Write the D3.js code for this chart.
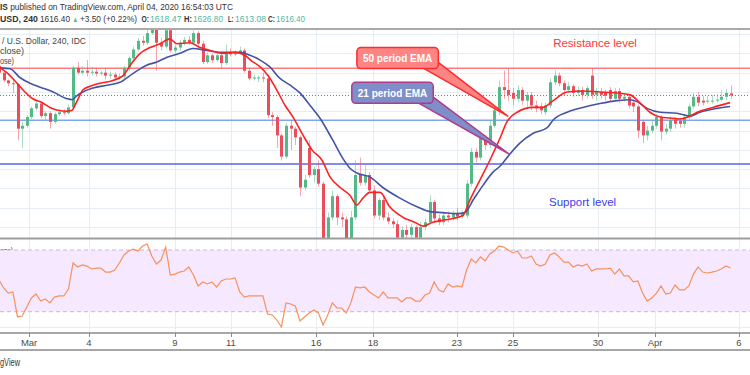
<!DOCTYPE html>
<html>
<head>
<meta charset="utf-8">
<script src="https://cdn.jsdelivr.net/npm/d3@7"></script>
<style>
body{margin:0;background:#fff;overflow:hidden;}
svg{display:block;font-family:"Liberation Sans",Arial,sans-serif;}
</style>
</head>
<body>
<div id="chart"></div>
<script>
// XAUUSD 240 candles (price units)
const opens = [1647,1640,1632,1629,1628,1582,1585,1594,1603,1608,
1595,1598,1589,1597,1599,1598,1604,1645,1640,1642,
1640,1641,1639,1640,1637,1638,1635,1636,1645,1655,
1664,1673,1671,1681,1692,1671,1667,1684,1663,1666,
1671,1674,1671,1681,1670,1651,1658,1653,1658,1650,
1661,1659,1661,1663,1642,1634,1634,1635,1634,1596,
1594,1575,1553,1585,1582,1573,1521,1562,1534,1540,
1525,1466,1490,1512,1490,1488,1466,1490,1534,1526,
1534,1518,1492,1508,1490,1486,1483,1469,1477,1472,
1480,1469,1480,1485,1506,1489,1485,1492,1490,1494,
1491,1492,1525,1558,1552,1573,1565,1585,1601,1625,
1622,1619,1613,1622,1611,1617,1606,1605,1599,1606,
1630,1637,1629,1622,1626,1619,1622,1617,1637,1617,
1620,1619,1622,1613,1621,1613,1615,1609,1605,1589,
1575,1580,1585,1594,1579,1582,1591,1590,1587,1594,
1605,1615,1611,1610,1610,1611,1612,1615,1618.47];
const closes = [1640,1632,1629,1628,1582,1585,1594,1603,1608,1595,
1598,1589,1597,1599,1598,1604,1645,1640,1642,1640,
1641,1639,1640,1637,1638,1635,1636,1645,1655,1664,
1673,1671,1681,1692,1671,1667,1684,1663,1666,1671,
1674,1671,1681,1670,1651,1658,1653,1658,1650,1661,
1659,1661,1663,1642,1634,1635,1635,1634,1596,1594,
1575,1553,1585,1582,1573,1521,1529,1534,1540,1525,
1466,1490,1512,1490,1488,1466,1490,1534,1526,1534,
1518,1492,1508,1490,1486,1483,1469,1477,1472,1480,
1469,1480,1485,1506,1489,1485,1492,1490,1494,1491,
1494,1525,1558,1552,1573,1565,1585,1601,1625,1622,
1617,1613,1622,1611,1617,1606,1603,1601,1606,1630,
1637,1629,1622,1626,1619,1622,1617,1624,1617,1620,
1617,1616,1613,1621,1613,1615,1606,1605,1580,1575,
1580,1585,1594,1579,1582,1591,1587,1587,1594,1605,
1615,1609,1609,1611,1611,1612,1615,1619,1616.40];
const highs = [1651,1642,1633,1632,1629,1589,1596,1605,1611,1610,
1600,1600,1599,1602,1602,1607,1647,1651,1647,1653,
1646,1645,1642,1645,1641,1640,1639,1647,1657,1667,
1676,1678,1684,1699,1696,1676,1694,1692,1669,1674,
1677,1678,1684,1683,1673,1661,1660,1660,1661,1669,
1665,1663,1667,1665,1645,1638,1637,1640,1636,1599,
1596,1577,1588,1591,1584,1575,1534,1570,1543,1549,
1527,1495,1518,1514,1495,1491,1497,1549,1552,1544,
1537,1523,1510,1513,1495,1489,1487,1481,1482,1483,
1482,1485,1489,1513,1508,1493,1495,1496,1497,1500,
1497,1529,1562,1562,1578,1575,1591,1606,1632,1642,
1645,1624,1627,1625,1620,1620,1611,1609,1609,1634,
1642,1640,1632,1630,1628,1626,1625,1627,1645,1624,
1624,1622,1625,1624,1624,1618,1618,1611,1607,1591,
1585,1591,1597,1596,1587,1595,1594,1593,1597,1608,
1619,1620,1616,1616,1617,1618,1622,1623,1626.80];
const lows = [1638,1630,1626,1619,1570,1562,1583,1592,1601,1593,
1591,1582,1587,1595,1596,1597,1602,1638,1638,1636,
1637,1636,1637,1633,1634,1632,1633,1634,1642,1653,
1662,1668,1669,1679,1642,1663,1665,1661,1660,1663,
1668,1669,1669,1667,1649,1649,1650,1651,1645,1648,
1657,1657,1659,1640,1632,1632,1630,1630,1593,1585,
1562,1549,1551,1560,1565,1512,1518,1531,1526,1522,
1456,1461,1487,1482,1480,1458,1461,1487,1523,1523,
1515,1489,1487,1487,1483,1479,1461,1466,1466,1466,
1461,1466,1477,1483,1485,1482,1482,1485,1487,1487,
1489,1489,1522,1547,1549,1560,1562,1583,1596,1613,
1611,1606,1609,1607,1603,1601,1599,1597,1596,1603,
1627,1626,1616,1620,1615,1616,1611,1613,1613,1611,
1613,1611,1610,1611,1609,1610,1603,1599,1572,1567,
1570,1577,1582,1570,1576,1579,1582,1583,1583,1592,
1603,1605,1606,1608,1608,1609,1610,1612,1613.08];

// moving averages read as [bar, price]
const emaRed = [[0.2,1645],[1.7,1640],[3.9,1629],[5.6,1620],[7.3,1613],[9.3,1609],[11,1604],[12.7,1601],[14.7,1600],[15.8,1601],
[16.4,1606],[17.3,1615],[18.1,1622],[19.7,1626],[21.8,1629],[24.6,1632],[26.8,1637],[28.7,1650],[30.5,1660],[32.6,1666],
[34.8,1670],[36.9,1675],[38.4,1670],[41.3,1671],[43.4,1666],[45.6,1663],[48.4,1660],[51,1661],[53.1,1658],[54.6,1652],
[56.4,1646],[58.1,1637],[60,1622],[61.8,1606],[63.5,1594],[65.7,1575],[67.6,1560],[69.8,1549],[71.5,1532],[73.7,1521],
[75.8,1513],[77.3,1503],[78.6,1510],[80.1,1516],[82.3,1516],[84.4,1501],[87.3,1490],[89.8,1485],[91.6,1481],[93.7,1485],
[95.9,1487],[98.1,1489],[100.2,1492],[101.7,1508],[103.9,1529],[106,1549],[108.2,1572],[109.7,1589],[111.9,1599],[115.3,1604],
[117.5,1604],[119.7,1611],[122.7,1620],[126.1,1621],[129.8,1620],[133.5,1619],[136.3,1617],[138.4,1609],[140.6,1599],[142.8,1594],
[144.9,1593],[147.1,1592],[148.8,1594],[150.8,1599],[154.2,1604],[157.9,1609]];
const emaBlue = [[0.2,1645],[2.4,1644],[4.5,1635],[6.7,1629],[8.9,1625],[11.7,1620],[14.7,1613],[15.8,1612],[16.8,1616],[18.1,1620],
[20.3,1624],[23.3,1627],[26.1,1630],[28.9,1639],[32,1648],[34.1,1651],[36.3,1656],[39.1,1660],[41.9,1665],[44.9,1663],
[48.4,1661],[52.1,1661],[54.2,1658],[56.4,1653],[58.5,1646],[60.7,1634],[62.9,1627],[65,1619],[67.2,1606],[69.3,1593],
[72.1,1570],[74.3,1551],[75.8,1541],[77.3,1536],[80.1,1532],[82.9,1521],[86.6,1510],[90.3,1501],[93.1,1496],[95.9,1495],
[98.9,1494],[100.6,1495],[102.4,1508],[104.5,1523],[106.7,1537],[108.2,1543],[110.4,1556],[112.5,1567],[115.3,1577],[118.4,1583],
[119.7,1591],[122.7,1599],[126.1,1604],[129.8,1608],[133.5,1611],[136.3,1612],[137.8,1610],[140,1603],[142.8,1599],[146.4,1598],
[149.2,1595],[151.4,1599],[155.1,1603],[157.9,1605]];

// RSI, one value per bar
const rsi = [50.6,45.4,42.1,42.8,26.6,27.2,33.1,38.9,41.5,36.9,
38.2,35.7,39.5,40.2,40.2,44.7,61.6,59,60.3,59.6,
57.7,58.3,58.3,55.7,55.7,57,61.6,66.8,69.4,70.6,
69.4,72.6,73.9,66.1,60.9,63.5,71.9,53.8,54.4,55.7,
56.4,59,53.8,46.7,49.3,48,49.3,46,49.9,51.2,
51.2,51.9,42.8,39.5,40.2,40.2,40.2,40.2,28.5,27.9,
24.6,20.1,35.7,35,33.7,24,26.6,29.2,31.1,29.2,
21.4,27.9,35.7,32.4,32.4,29.2,35.7,46,45.4,46,
42.8,40.8,
38.9,42.8,38.9,38.9,38.9,36.3,38.9,38.9,36.9,36.9,
40.8,42.1,49.3,44.1,42.8,48,46,46.7,46,57,
64.2,61.6,65.5,62.9,67.4,69.4,72.6,71.9,70,68.1,
69.4,64.8,64.8,66.1,60.9,59.6,60.9,66.8,68.1,65.5,
62.2,62.2,59,60.3,59.6,60.9,56.4,57.7,57.7,57.7,
58.3,54.4,57.7,53.2,53.2,49.3,49.9,42.1,36.9,38.9,
42.1,46.7,41.5,42.1,47.3,44.1,44.1,46.7,54.4,59,
55.7,55.1,55.7,56.4,57.7,59.6,58.3];

const tickLabels = ['Mar','4','9','11','16','18','23','25','30','Apr','6'];
const tickBars = [6.5,19.4,38,50.1,68.5,80.8,98.9,111,129.4,141.7,159.8];

const resistance = 1644.5;
const midLevel = 1590.7;
const support = 1545.4;
const lastPrice = 1616.4;

const W = 750, H = 375;
const UP = '#53b987', DOWN = '#eb4d5c';

var x = d3.scaleLinear().domain([0, 158]).range([-1, 730.5]);
var y = d3.scaleLinear().domain([1468.7, 1684.2]).range([238, 30]);
var yr = d3.scaleLinear().domain([30, 70]).range([311.7, 250]);

var svg = d3.select('#chart').append('svg').attr('width', W).attr('height', H);

// squeeze a text into the width it has in the snapshot
function fit(sel, len){
    return sel.attr('textLength', len).attr('lengthAdjust', 'spacingAndGlyphs');
}

// header
var h1 = fit(svg.append('text').attr('x', 0).attr('y', 10)
    .attr('font-size', '8.6px').attr('fill', '#333'), 233);
h1.append('tspan').attr('font-weight', 'bold').text('IS');
h1.append('tspan').text(' published on TradingView.com, April 04, 2020 16:54:03 UTC');

var h2 = svg.append('g').attr('font-size', '8.3px').attr('fill', '#333');
function head(tx, px, len, col, bold){
    fit(h2.append('text').attr('x', px).attr('y', 22).text(tx)
        .attr('fill', col || '#333').attr('font-weight', bold ? 'bold' : 'normal'), len);
}
head('USD, 240', 0, 38, null, true);
head('1616.40', 40, 30);
head('\u25B2', 72.5, 5.5, UP);
head('+3.50 (+0.22%)', 80, 57);
head('O:', 141.5, 7.5, null, true);
head('1618.47', 150, 31.5, '#4fb6a0');
head('H:', 184, 8, null, true);
head('1626.80', 193, 30, '#4fb6a0');
head('L:', 228, 5.5, null, true);
head('1613.08', 235, 31, '#4fb6a0');
head('C:', 268, 7, null, true);
head('1616.40', 276, 29, '#4fb6a0');

// clip for main pane
svg.append('clipPath').attr('id', 'mainclip').append('rect')
    .attr('x', 0).attr('y', 30).attr('width', W).attr('height', 208);

var grid = svg.append('g').attr('stroke', '#e6eef4').attr('stroke-width', 1);
grid.selectAll('line.h').data(y.ticks(10)).enter().append('line')
    .attr('x1', 0).attr('x2', W)
    .attr('y1', d => Math.round(y(d)) + 0.5).attr('y2', d => Math.round(y(d)) + 0.5);
grid.selectAll('line.v').data(tickBars).enter().append('line')
    .attr('x1', d => Math.round(x(d)) + 0.5).attr('x2', d => Math.round(x(d)) + 0.5)
    .attr('y1', 30).attr('y2', 333);
grid.selectAll('line.r').data([60, 40, 20]).enter().append('line')
    .attr('x1', 0).attr('x2', W)
    .attr('y1', d => Math.round(yr(d)) + 0.5).attr('y2', d => Math.round(yr(d)) + 0.5);

// horizontal levels
function level(p, col, w, dash){
    svg.append('line').attr('x1', 0).attr('x2', W)
        .attr('y1', y(p)).attr('y2', y(p))
        .attr('stroke', col).attr('stroke-width', w)
        .attr('stroke-dasharray', dash || null);
}
level(resistance, '#ff7a7a', 1.6);
level(midLevel, '#7ea4f2', 1.3);
level(support, '#5a62f2', 1.6);
level(lastPrice, '#f04040', 1, '1,2');

var plot = svg.append('g').attr('clip-path', 'url(#mainclip)');
const bars = d3.range(opens.length);
const col = i => closes[i] >= opens[i] ? UP : DOWN;

plot.selectAll('line.wick').data(bars).enter().append('line')
    .attr('x1', i => Math.round(x(i)) + 0.5).attr('x2', i => Math.round(x(i)) + 0.5)
    .attr('y1', i => y(highs[i])).attr('y2', i => y(lows[i]))
    .attr('stroke', col).attr('stroke-opacity', 0.5);

plot.selectAll('rect.body').data(bars).enter().append('rect')
    .attr('x', i => Math.round(x(i)) - 1).attr('width', 3)
    .attr('y', i => y(Math.max(opens[i], closes[i])))
    .attr('height', i => Math.max(1, Math.abs(y(opens[i]) - y(closes[i]))))
    .attr('fill', col);

var ema = d3.line().x(d => x(d[0])).y(d => y(d[1])).curve(d3.curveMonotoneX);
plot.append('path').attr('d', ema(emaBlue)).attr('fill', 'none')
    .attr('stroke', '#4354a6').attr('stroke-width', 1.6);
plot.append('path').attr('d', ema(emaRed)).attr('fill', 'none')
    .attr('stroke', '#ff2020').attr('stroke-width', 1.6);

// legend text, only the part left of the cut is in the snapshot
var leg = svg.append('g').attr('font-size', '9.5px').attr('fill', '#444');
fit(leg.append('text').attr('x', 2).attr('y', 44).text('/ U.S. Dollar, 240, IDC'), 84);
fit(leg.append('text').attr('x', 0).attr('y', 54).text('close)'), 24);
fit(leg.append('text').attr('x', 0).attr('y', 64).text('ose)'), 14);
fit(leg.append('text').attr('x', 0).attr('y', 254).text('ose)'), 13);

// annotations
svg.append('text').attr('x', x(119.7)).attr('y', y(1667)).text('Resistance level')
    .attr('font-size', '11.5px').attr('fill', '#ff3434');
svg.append('text').attr('x', x(118.8)).attr('y', y(1502)).text('Support level')
    .attr('font-size', '11.5px').attr('fill', '#3b3bf0');

function callout(label, boxBar, boxPrice, tipBar, tipPrice, fill, stroke){
    var bx = x(boxBar), by = y(boxPrice);
    var g = svg.append('g');
    var t = g.append('text').attr('x', bx + 6).attr('y', by + 14.5).text(label)
        .attr('fill', '#fff').attr('font-weight', 'bold').attr('font-size', '10px');
    var w = t.node().getComputedTextLength() + 12, h = 21;
    var right = bx + w, bottom = by + h;
    g.insert('path', 'text')
        .attr('d', 'M' + (right - 16) + ',' + (bottom - 1) + 'L' + x(tipBar) + ',' + y(tipPrice) + 'L' + (right - 1) + ',' + (bottom - 7) + 'Z')
        .attr('fill', fill).attr('stroke', stroke).attr('stroke-width', 1.5).attr('stroke-linejoin', 'round');
    g.insert('rect', 'text').attr('x', bx).attr('y', by).attr('width', w).attr('height', h)
        .attr('rx', 4).attr('fill', fill).attr('stroke', stroke).attr('stroke-width', 1.5);
}
callout('50 period EMA', 77.3, 1666, 109.9, 1595, '#ff8585', '#ff2a2a');
callout('21 period EMA', 76.2, 1630, 110.1, 1556, '#7d8ec9', '#b03a8c');

// RSI pane
svg.append('rect').attr('x', 0).attr('width', W)
    .attr('y', yr(70)).attr('height', yr(30) - yr(70)).attr('fill', '#f5e8ff');
svg.selectAll('line.band').data([70, 30]).enter().append('line')
    .attr('x1', 0).attr('x2', W).attr('y1', d => yr(d)).attr('y2', d => yr(d))
    .attr('stroke', '#c9b9d4').attr('stroke-dasharray', '4,3');
var rsiLine = d3.line().x((d, i) => x(i)).y(d => yr(d));
svg.append('path').attr('d', rsiLine(rsi)).attr('fill', 'none')
    .attr('stroke', '#f7915c').attr('stroke-width', 1.2);

// pane borders
function border(py, w, c){
    svg.append('line').attr('x1', 0).attr('x2', W).attr('y1', py).attr('y2', py)
        .attr('stroke', c).attr('stroke-width', w);
}
border(29, 2, '#a9a9a9');
border(238.5, 2, '#9d9d9d');
border(333, 1.5, '#8a8a8a');
border(350, 1.5, '#8a8a8a');

// time axis
var ax = svg.append('g');
ax.selectAll('line').data(tickBars).enter().append('line')
    .attr('x1', d => Math.round(x(d)) + 0.5).attr('x2', d => Math.round(x(d)) + 0.5)
    .attr('y1', 333).attr('y2', 337).attr('stroke', '#8a8a8a');
ax.selectAll('text').data(tickLabels).enter().append('text')
    .attr('x', (d, i) => x(tickBars[i])).attr('y', 345.5)
    .attr('text-anchor', 'middle').attr('font-size', '9.5px').attr('fill', '#4d4d4d')
    .text(d => d);

fit(svg.append('text').attr('x', 0).attr('y', 366)
    .attr('font-size', '11px').attr('fill', '#333').text('gView'), 20);
</script>
</body>
</html>
